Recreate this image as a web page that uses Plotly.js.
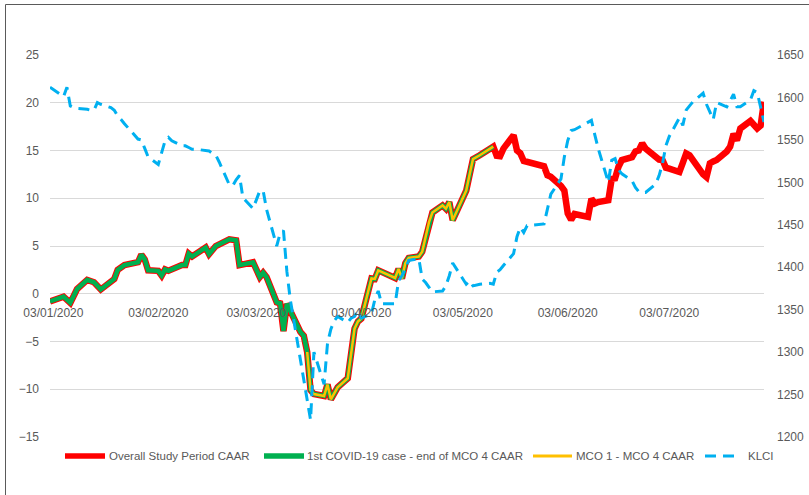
<!DOCTYPE html>
<html>
<head>
<meta charset="utf-8">
<script src="https://cdn.plot.ly/plotly-3.0.1.min.js"></script>
<style>
  html, body { margin: 0; padding: 0; background: #ffffff; }
  #chart { width: 809px; height: 495px; }
</style>
</head>
<body>
<div id="chart"></div>
<script>
// ---- Data ----
const caarDates = [
  "2020-01-02","2020-01-06","2020-01-08","2020-01-10","2020-01-13","2020-01-15","2020-01-17",
  "2020-01-20","2020-01-21","2020-01-22","2020-01-24","2020-01-28","2020-01-29","2020-01-30",
  "2020-01-31","2020-02-03","2020-02-04","2020-02-05","2020-02-06","2020-02-10","2020-02-11",
  "2020-02-12","2020-02-13","2020-02-17","2020-02-18","2020-02-20","2020-02-21","2020-02-24",
  "2020-02-26","2020-02-27","2020-03-02","2020-03-03","2020-03-04","2020-03-05","2020-03-06",
  "2020-03-09","2020-03-10","2020-03-11","2020-03-12","2020-03-16","2020-03-17","2020-03-18",
  "2020-03-19","2020-03-20","2020-03-23","2020-03-24","2020-03-25","2020-03-27","2020-03-30",
  "2020-04-01","2020-04-02","2020-04-03","2020-04-06","2020-04-07","2020-04-08","2020-04-13",
  "2020-04-14","2020-04-15","2020-04-16","2020-04-17","2020-04-20","2020-04-21","2020-04-22",
  "2020-04-23","2020-04-24","2020-04-27","2020-04-28","2020-04-29","2020-04-30","2020-05-04",
  "2020-05-05","2020-05-06","2020-05-08","2020-05-11","2020-05-12","2020-05-13","2020-05-14",
  "2020-05-15","2020-05-18","2020-05-19","2020-05-20","2020-05-21","2020-05-22","2020-05-27",
  "2020-05-28","2020-05-29","2020-06-01","2020-06-02","2020-06-03","2020-06-04","2020-06-05",
  "2020-06-09","2020-06-10","2020-06-11","2020-06-12","2020-06-15","2020-06-16","2020-06-17",
  "2020-06-18","2020-06-19","2020-06-22","2020-06-23","2020-06-24","2020-06-25","2020-06-26",
  "2020-06-29","2020-06-30","2020-07-01","2020-07-02","2020-07-03","2020-07-06","2020-07-07",
  "2020-07-08","2020-07-09","2020-07-10","2020-07-13","2020-07-14","2020-07-15","2020-07-16",
  "2020-07-17","2020-07-20","2020-07-21","2020-07-22","2020-07-23","2020-07-24","2020-07-27",
  "2020-07-28","2020-07-29","2020-07-30","2020-07-31"
];
const overallCaar = [
  -0.8,-0.3,-0.95,0.5,1.45,1.2,0.45,
  1.3,1.55,2.5,3.0,3.3,4.1,3.6,
  2.45,2.4,1.9,2.55,2.4,3.0,3.0,
  4.2,3.9,4.85,4.15,5.0,5.15,5.7,
  5.6,3.0,3.3,2.6,1.75,2.2,1.75,
  -0.9,-1.0,-3.9,-1.05,-4.0,-4.4,-6.1,
  -10.1,-10.5,-10.7,-9.5,-11.05,-9.8,-8.85,
  -3.65,-2.9,-2.6,1.6,1.55,2.45,1.65,
  2.6,1.6,3.2,3.75,3.9,4.4,5.9,
  7.5,8.5,9.25,8.9,9.6,7.7,10.8,
  12.5,14.1,14.5,15.2,15.4,14.45,14.4,
  15.2,16.6,15.0,14.7,13.9,13.8,13.35,
  12.4,12.25,11.3,10.8,8.4,7.75,8.35,
  8.05,9.95,9.45,9.6,9.8,12.05,12.1,
  13.3,14.0,14.3,14.9,15.0,15.75,15.2,
  14.3,14.05,14.0,13.2,13.1,12.75,13.7,
  14.7,14.5,13.95,12.5,12.2,13.65,13.85,
  14.0,14.9,15.4,16.75,16.05,17.3,18.1,
  17.7,17.3,17.6,20.1
];
// sub-period windows (same underlying CAAR readings)
const covidPeriod = ["2020-01-02", "2020-05-12"];
const mcoPeriod = ["2020-03-18", "2020-05-12"];

const klciDates = [
  "2020-01-02","2020-01-06","2020-01-07","2020-01-08","2020-01-09","2020-01-10","2020-01-13",
  "2020-01-14","2020-01-15","2020-01-16","2020-01-17","2020-01-20","2020-01-21","2020-01-22",
  "2020-01-23","2020-01-24","2020-01-28","2020-01-29","2020-01-30","2020-01-31","2020-02-03",
  "2020-02-04","2020-02-05","2020-02-06","2020-02-07","2020-02-10","2020-02-11","2020-02-12",
  "2020-02-13","2020-02-14","2020-02-17","2020-02-18","2020-02-19","2020-02-20","2020-02-21",
  "2020-02-24","2020-02-25","2020-02-26","2020-02-27","2020-02-28","2020-03-02","2020-03-03",
  "2020-03-04","2020-03-05","2020-03-06","2020-03-09","2020-03-10","2020-03-11","2020-03-12",
  "2020-03-13","2020-03-16","2020-03-17","2020-03-18","2020-03-19","2020-03-20","2020-03-23",
  "2020-03-24","2020-03-25","2020-03-26","2020-03-27","2020-03-30","2020-03-31","2020-04-01",
  "2020-04-02","2020-04-03","2020-04-06","2020-04-07","2020-04-08","2020-04-09","2020-04-10",
  "2020-04-13","2020-04-14","2020-04-15","2020-04-16","2020-04-17","2020-04-20","2020-04-21",
  "2020-04-22","2020-04-23","2020-04-24","2020-04-27","2020-04-28","2020-04-29","2020-04-30",
  "2020-05-04","2020-05-05","2020-05-06","2020-05-08","2020-05-11","2020-05-12","2020-05-13",
  "2020-05-14","2020-05-15","2020-05-18","2020-05-19","2020-05-20","2020-05-21","2020-05-22",
  "2020-05-27","2020-05-28","2020-05-29","2020-06-01","2020-06-02","2020-06-03","2020-06-04",
  "2020-06-05","2020-06-09","2020-06-10","2020-06-11","2020-06-12","2020-06-15","2020-06-16",
  "2020-06-17","2020-06-18","2020-06-19","2020-06-22","2020-06-23","2020-06-24","2020-06-25",
  "2020-06-26","2020-06-29","2020-06-30","2020-07-01","2020-07-02","2020-07-03","2020-07-06",
  "2020-07-07","2020-07-08","2020-07-09","2020-07-10","2020-07-13","2020-07-14","2020-07-15",
  "2020-07-16","2020-07-17","2020-07-20","2020-07-21","2020-07-22","2020-07-23","2020-07-24",
  "2020-07-27","2020-07-28","2020-07-29","2020-07-30","2020-07-31"
];
const klciValues = [
  1612,1601,1612,1590,1588,1587,1586,
  1585,1585,1594,1592,1588,1585,1578,
  1574,1569,1551,1550,1540,1530,1521,
  1535,1549,1553,1549,1543,1543,1541,
  1539,1539,1538,1537,1534,1532,1524,
  1497,1496,1503,1508,1482,1469,1479,
  1490,1490,1468,1425,1440,1443,1395,
  1362,1290,1268,1245,1220,1300,1262,
  1310,1327,1337,1342,1335,1340,1342,
  1349,1340,1345,1362,1372,1357,1357,
  1357,1384,1390,1398,1408,1410,1386,
  1382,1376,1371,1372,1378,1390,1405,
  1380,1384,1378,1380,1381,1380,1394,
  1397,1402,1416,1436,1447,1441,1449,
  1451,1469,1486,1504,1530,1549,1561,
  1562,1571,1573,1556,1540,1500,1526,
  1528,1515,1510,1502,1494,1489,1488,
  1488,1498,1508,1522,1543,1554,1576,
  1567,1585,1590,1595,1605,1592,1583,
  1574,1594,1589,1596,1604,1589,1589,
  1597,1608,1606,1590,1571
];

const tickDates = ["2020-01-03","2020-02-03","2020-03-03","2020-04-03","2020-05-03","2020-06-03","2020-07-03"];
const tickLabels = ["03/01/2020","03/02/2020","03/03/2020","03/04/2020","03/05/2020","03/06/2020","03/07/2020"];

const seriesNames = ["Overall Study Period CAAR", "1st COVID-19 case - end of MCO 4 CAAR", "MCO 1 - MCO 4 CAAR", "KLCI"];

// ---- Styles ----
const FONT = 'Liberation Sans, Arial, sans-serif';
const seriesStyles = [
  { color: '#ff0000', width: 6.5 },
  { color: '#00b050', width: 4.5 },
  { color: '#ffc000', width: 2.5 },
  { color: '#00b0f0', width: 3, dash: '11px,7px' }
];
// plot-area geometry in pixels (for placing the legend outside the plot)
const PLOT = { left: 50, top: 55, width: 714, height: 382 };
const px2x = px => (px - PLOT.left) / PLOT.width;
const px2y = py => (PLOT.top + PLOT.height - py) / PLOT.height;
// legend entries: symbol start/end and text start, in pixels
const legendRow = 456;
const legendItems = [
  { s0: 65, s1: 105, t: 108 },
  { s0: 264, s1: 304, t: 306 },
  { s0: 533, s1: 572, t: 575 },
  { s0: 705, s1: 741, t: 747 }
];
const legendSymbolWidths = [5.5, 5.5, 3, 3];

// ---- Build traces ----
function windowed(dates, vals, period) {
  const x = [], y = [];
  dates.forEach((d, i) => { if (d >= period[0] && d <= period[1]) { x.push(d); y.push(vals[i]); } });
  return {x, y};
}
const covid = windowed(caarDates, overallCaar, covidPeriod);
const mco = windowed(caarDates, overallCaar, mcoPeriod);

const traces = [
  { x: caarDates, y: overallCaar, name: seriesNames[0], type: 'scatter', mode: 'lines',
    line: seriesStyles[0], yaxis: 'y' },
  { x: covid.x, y: covid.y, name: seriesNames[1], type: 'scatter', mode: 'lines',
    line: seriesStyles[1], yaxis: 'y' },
  { x: mco.x, y: mco.y, name: seriesNames[2], type: 'scatter', mode: 'lines',
    line: seriesStyles[2], yaxis: 'y' },
  { x: klciDates, y: klciValues, name: seriesNames[3], type: 'scatter', mode: 'lines',
    line: seriesStyles[3], yaxis: 'y2' }
];

const shapes = [{
  type: 'rect', xref: 'paper', yref: 'paper',
  x0: px2x(5.5), x1: 1.3, y0: -0.3, y1: px2y(4.5),
  line: { color: '#5a5a5a', width: 1 }, fillcolor: 'rgba(0,0,0,0)', layer: 'above'
}];
const annotations = [];
legendItems.forEach((it, i) => {
  shapes.push({
    type: 'line', xref: 'paper', yref: 'paper',
    x0: px2x(it.s0), x1: px2x(it.s1), y0: px2y(legendRow), y1: px2y(legendRow),
    line: { color: seriesStyles[i].color, width: legendSymbolWidths[i], dash: seriesStyles[i].dash || 'solid' }
  });
  annotations.push({
    xref: 'paper', yref: 'paper', x: px2x(it.t), y: px2y(legendRow),
    xanchor: 'left', yanchor: 'middle', showarrow: false, borderpad: 0,
    text: seriesNames[i], font: { family: FONT, size: 11.5, color: '#595959' }
  });
});

const layout = {
  width: 809, height: 495,
  margin: { l: PLOT.left, r: 809 - PLOT.left - PLOT.width, t: PLOT.top, b: 495 - PLOT.top - PLOT.height, pad: 0 },
  paper_bgcolor: '#ffffff', plot_bgcolor: '#ffffff',
  font: { family: FONT, color: '#595959', size: 12 },
  showlegend: false,
  xaxis: {
    type: 'date', range: ['2020-01-02', '2020-07-31'],
    tickmode: 'array', tickvals: tickDates, ticktext: tickLabels,
    anchor: 'free', position: 0.375,
    showgrid: false, zeroline: false, showline: false, ticks: '',
    ticklabelstandoff: 10,
    tickfont: { family: FONT, size: 12, color: '#595959' }
  },
  yaxis: {
    range: [-15, 25], dtick: 5, tick0: 0,
    showgrid: true, gridcolor: '#d9d9d9', gridwidth: 1,
    zeroline: false, showline: false, ticks: '',
    ticklabelstandoff: 10,
    tickfont: { family: FONT, size: 12, color: '#595959' }
  },
  yaxis2: {
    range: [1200, 1650], dtick: 50, tick0: 1200,
    overlaying: 'y', side: 'right',
    showgrid: false, zeroline: false, showline: false, ticks: '',
    ticklabelstandoff: 12,
    tickfont: { family: FONT, size: 12, color: '#595959' }
  },
  shapes: shapes,
  annotations: annotations
};

Plotly.newPlot('chart', traces, layout, { displayModeBar: false, staticPlot: true });
</script>
</body>
</html>
